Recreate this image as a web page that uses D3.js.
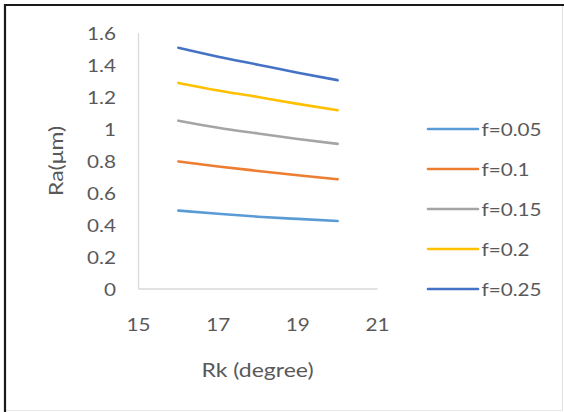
<!DOCTYPE html>
<html>
<head>
<meta charset="utf-8">
<script src="https://cdn.jsdelivr.net/npm/d3@7"></script>
<style>
  html, body { margin: 0; padding: 0; background: #fff; }
  svg { display: block; }
  text { font-family: Lato, "Open Sans", sans-serif; fill: #595959; }
</style>
</head>
<body>
<script>
const xValues = [16, 17, 18, 19, 20];
const seriesNames = ["f=0.05", "f=0.1", "f=0.15", "f=0.2", "f=0.25"];
const f005 = [0.49, 0.47, 0.452, 0.438, 0.425];
const f010 = [0.797, 0.766, 0.738, 0.711, 0.686];
const f015 = [1.052, 1.008, 0.972, 0.938, 0.907];
const f020 = [1.288, 1.241, 1.200, 1.157, 1.117];
const f025 = [1.508, 1.452, 1.402, 1.352, 1.305];
const seriesColors = ["#5B9BD5", "#ED7D31", "#A5A5A5", "#FFC000", "#4472C4"];
const xTicks = [15, 17, 19, 21];
const yTicks = [0, 0.2, 0.4, 0.6, 0.8, 1, 1.2, 1.4, 1.6];
const xTitle = "Rk (degree)";
const yTitle = "Ra(μm)";

const allSeries = [f005, f010, f015, f020, f025];
const W = 564, H = 412;
const SX = 1.15; // horizontal stretch of text
const svg = d3.select("body").append("svg").attr("width", W).attr("height", H);

// frame
svg.append("rect").attr("x", 0).attr("y", 0).attr("width", W).attr("height", H).attr("fill", "#fff");
svg.append("line").attr("x1", 562.5).attr("x2", 562.5).attr("y1", 5).attr("y2", 411).attr("stroke", "#e0e0e0").attr("stroke-width", 1);
svg.append("line").attr("x1", 5).attr("x2", 563).attr("y1", 410.5).attr("y2", 410.5).attr("stroke", "#e6e6e6").attr("stroke-width", 1);
svg.append("line").attr("x1", 5).attr("x2", 5).attr("y1", 4).attr("y2", 412).attr("stroke", "#1a1a1a").attr("stroke-width", 2.2);
svg.append("line").attr("x1", 4).attr("x2", 564).attr("y1", 5).attr("y2", 5).attr("stroke", "#1a1a1a").attr("stroke-width", 2.2);

const x = d3.scaleLinear().domain([15, 21]).range([138.5, 377.5]);
const y = d3.scaleLinear().domain([0, 1.6]).range([289, 33]);

function label(parent, px, py, txt, size, anchor, rot) {
  const g = parent.append("g").attr("transform", `translate(${px},${py})${rot ? ` rotate(${rot})` : ""} scale(${SX},1)`);
  g.append("text").attr("x", 0).attr("y", 0).attr("text-anchor", anchor).attr("dominant-baseline", "central")
    .style("font-size", size + "px").text(txt);
  return g;
}

// axes lines
svg.append("line").attr("x1", x(15)).attr("x2", x(15)).attr("y1", y(1.6)).attr("y2", y(0)).attr("stroke", "#d9d9d9").attr("stroke-width", 1.3);
svg.append("line").attr("x1", x(15)).attr("x2", x(21)).attr("y1", y(0)).attr("y2", y(0)).attr("stroke", "#d9d9d9").attr("stroke-width", 1.3);

// y tick labels
const gy = svg.append("g");
yTicks.forEach(t => label(gy, 116, y(t), String(t), 18, "end"));

// x tick labels
const gx = svg.append("g");
xTicks.forEach(t => label(gx, x(t), 324, String(t), 18, "middle"));

// titles
label(svg, 257.5, 370, xTitle, 20, "middle");
label(svg, 56, 161, yTitle, 20, "middle", -90);

// lines
const line = d3.line().x((d, i) => x(xValues[i])).y(d => y(d)).curve(d3.curveMonotoneX);
allSeries.forEach((s, k) => {
  svg.append("path").datum(s).attr("d", line).attr("fill", "none")
    .attr("stroke", seriesColors[k]).attr("stroke-width", 2.6).attr("stroke-linecap", "round");
});

// legend
seriesNames.forEach((name, k) => {
  const ly = 129 + k * 40;
  svg.append("line").attr("x1", 428).attr("x2", 478).attr("y1", ly).attr("y2", ly)
    .attr("stroke", seriesColors[k]).attr("stroke-width", 2.6).attr("stroke-linecap", "round");
  label(svg, 481.5, ly, name, 18, "start");
});
</script>
</body>
</html>
